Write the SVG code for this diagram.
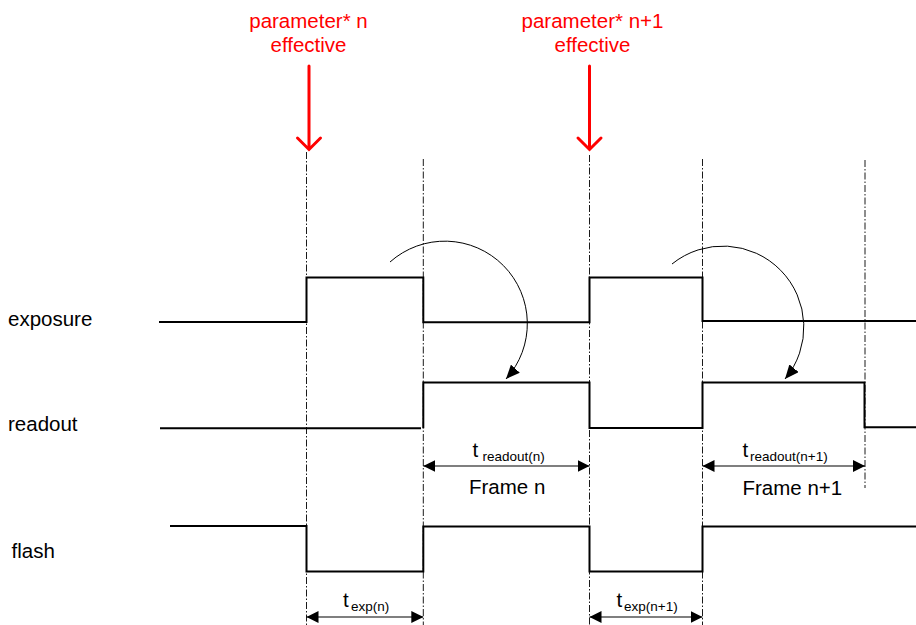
<svg xmlns="http://www.w3.org/2000/svg" width="916" height="625" viewBox="0 0 916 625">
<style>
text{font-family:"Liberation Sans",Arial,sans-serif;fill:#000}
.lbl{font-size:20.5px}
.red{fill:#ff0000;font-size:20.5px;text-anchor:middle}
.sub{font-size:13.5px}
.sig{fill:none;stroke:#000;stroke-width:2}
.guide{fill:none;stroke:#000;stroke-width:0.9;stroke-dasharray:7 2 1.5 2}
.dim{fill:none;stroke:#000;stroke-width:1.2}
.curve{fill:none;stroke:#000;stroke-width:1}
.redarrow{fill:none;stroke:#ff0000;stroke-width:3;stroke-linecap:round;stroke-linejoin:miter}
</style>
<defs>
<marker id="dimhead" viewBox="0 0 12 12" refX="12" refY="6" markerWidth="12" markerHeight="12" markerUnits="userSpaceOnUse" orient="auto-start-reverse">
<path d="M0 0 L12 6 L0 12 Z" fill="#000"/>
</marker>
<marker id="curvehead" viewBox="0 0 14 12" refX="14" refY="6" markerWidth="14" markerHeight="12" markerUnits="userSpaceOnUse" orient="auto">
<path d="M0 0 L14 6 L0 12 Z" fill="#000"/>
</marker>
</defs>

<g id="guides">
<line class="guide" x1="306.5" y1="152" x2="306.5" y2="625"/>
<line class="guide" x1="423.3" y1="159" x2="423.3" y2="625"/>
<line class="guide" x1="589.5" y1="155" x2="589.5" y2="625"/>
<line class="guide" x1="702.5" y1="159" x2="702.5" y2="625"/>
<line class="guide" x1="865" y1="160" x2="865" y2="488"/>
</g>

<g id="param-n">
<text class="red" x="308.5" y="28">parameter* n</text>
<text class="red" x="308.5" y="52">effective</text>
<path class="redarrow" d="M309 66 V149 M297.5 138 L309 149.5 L320.5 138"/>
</g>
<g id="param-n1">
<text class="red" x="592.5" y="28">parameter* n+1</text>
<text class="red" x="592.5" y="52">effective</text>
<path class="redarrow" d="M589.5 66 V149 M578 138 L589.5 149.5 L601 138"/>
</g>

<g id="exposure">
<text class="lbl" x="8" y="326">exposure</text>
<path class="sig" d="M159 322 H306.5 V277.5 H423.3 V322.3 H589.5 V277.5 H702.5 V321 H916"/>
</g>
<g id="readout">
<text class="lbl" x="8" y="431">readout</text>
<path class="sig" d="M160 428.3 H421 M423.3 428.3 V382.5 H589.5 V428 H702.5 V382.5 H864.5 V427.3 H916"/>
</g>
<g id="flash">
<text class="lbl" x="11.5" y="558">flash</text>
<path class="sig" d="M170 526 H306.5 V571.5 H423.3 V526.5 H589.5 V571.5 H702.5 V526.5 H916"/>
</g>

<g id="connectors">
<path class="curve" d="M390 262 A82.5 82.5 0 0 1 506 379" marker-end="url(#curvehead)"/>
<path class="curve" d="M672 264 A81 81 0 0 1 785 379" marker-end="url(#curvehead)"/>
<line class="dim" x1="423.3" y1="466" x2="589.5" y2="466" marker-start="url(#dimhead)" marker-end="url(#dimhead)"/>
<line class="dim" x1="702.5" y1="466" x2="865" y2="466" marker-start="url(#dimhead)" marker-end="url(#dimhead)"/>
<line class="dim" x1="306.5" y1="617" x2="423.3" y2="617" marker-start="url(#dimhead)" marker-end="url(#dimhead)"/>
<line class="dim" x1="589.5" y1="617" x2="702.5" y2="617" marker-start="url(#dimhead)" marker-end="url(#dimhead)"/>
</g>

<g id="t-readout-n">
<text class="lbl" x="472.5" y="457">t<tspan class="sub" x="482.5" dy="4">readout(n)</tspan></text>
<text class="lbl" x="469" y="494">Frame n</text>
</g>
<g id="t-readout-n1">
<text class="lbl" x="742.5" y="457">t<tspan class="sub" x="750" dy="4">readout(n+1)</tspan></text>
<text class="lbl" x="742.5" y="495">Frame n+1</text>
</g>
<g id="t-exp-n">
<text class="lbl" x="343" y="607">t<tspan class="sub" x="351" dy="4">exp(n)</tspan></text>
</g>
<g id="t-exp-n1">
<text class="lbl" x="616.5" y="607">t<tspan class="sub" x="624" dy="4">exp(n+1)</tspan></text>
</g>
</svg>
